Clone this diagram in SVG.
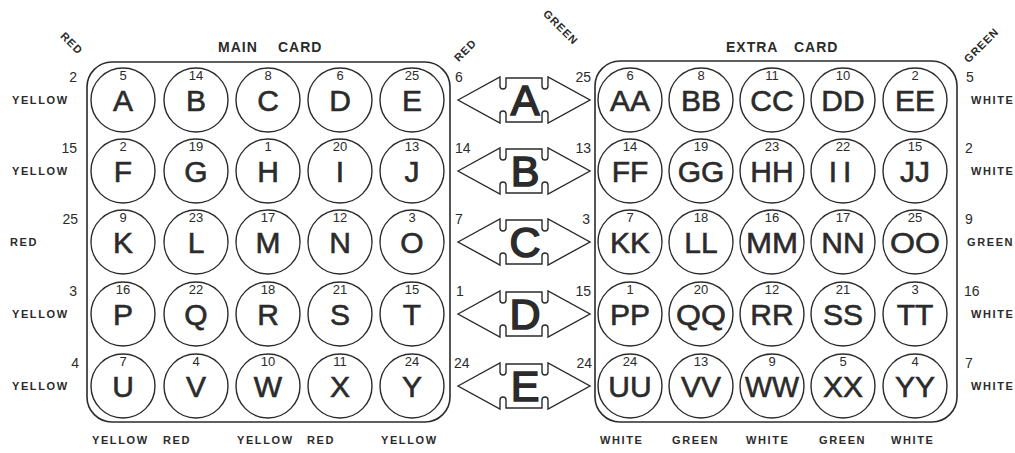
<svg xmlns="http://www.w3.org/2000/svg" xmlns:xlink="http://www.w3.org/1999/xlink" width="1015" height="453" viewBox="0 0 1015 453">
<style>
.card{fill:none;stroke:#2b2b2b;stroke-width:1.6}
.ball{fill:#fff;stroke:#2b2b2b;stroke-width:1.4}
.num{font-family:"Liberation Sans",Arial,sans-serif;font-size:13px;fill:#2b2b2b;text-anchor:middle}
.let{font-family:"Liberation Sans",Arial,sans-serif;font-size:30px;fill:#2b2b2b;stroke:#2b2b2b;stroke-width:0.6;text-anchor:middle}
.big{font-family:"Liberation Sans",Arial,sans-serif;font-size:43px;fill:#2b2b2b;stroke:#2b2b2b;stroke-width:1.6;text-anchor:middle}
.side{font-family:"Liberation Sans",Arial,sans-serif;font-size:14px;fill:#2b2b2b}
.lab{font-family:"Liberation Sans",Arial,sans-serif;font-size:11px;font-weight:bold;letter-spacing:1.6px;fill:#2b2b2b}
.title{font-family:"Liberation Sans",Arial,sans-serif;font-size:14px;font-weight:bold;letter-spacing:1px;fill:#2b2b2b}
.rot{font-family:"Liberation Sans",Arial,sans-serif;font-size:11px;font-weight:bold;letter-spacing:1px;fill:#2b2b2b;text-anchor:middle}
.arrow{fill:#fff;stroke:#2b2b2b;stroke-width:1.4;stroke-linejoin:miter}
</style>
<defs>
<path id="sel" class="arrow" d="M -66,0 L -24,-23 L -24,-14 A 3,3 0 0 0 -18,-14 L -18,-22 L 18,-22 L 18,-14 A 3,3 0 0 0 24,-14 L 24,-23 L 66,0 L 24,23 L 24,14 A 3,3 0 0 0 18,14 L 18,22 L -18,22 L -18,14 A 3,3 0 0 0 -24,14 L -24,23 Z"/>
</defs>
<rect width="1015" height="453" fill="#fff"/>

<g id="titles">
<text class="title" y="52"><tspan x="218">MAIN</tspan><tspan x="278">CARD</tspan></text>
<text class="title" y="52"><tspan x="726">EXTRA</tspan><tspan x="794">CARD</tspan></text>
<text class="rot" transform="translate(69,46) rotate(45)">RED</text>
<text class="rot" transform="translate(468,53) rotate(-45)">RED</text>
<text class="rot" transform="translate(558,30) rotate(45)">GREEN</text>
<text class="rot" transform="translate(984,48) rotate(-45)">GREEN</text>
</g>

<g id="main-card">
<rect class="card" x="87" y="62" width="363" height="360" rx="25"/>
</g>
<g id="extra-card">
<rect class="card" x="595" y="61" width="362" height="361" rx="25"/>
</g>

<g id="main-balls">
<g id="ball-A"><circle class="ball" cx="123" cy="100" r="32"/><text class="num" x="123" y="80">5</text><text class="let" x="123" y="111">A</text></g>
<g id="ball-B"><circle class="ball" cx="196" cy="100" r="32"/><text class="num" x="196" y="80">14</text><text class="let" x="196" y="111">B</text></g>
<g id="ball-C"><circle class="ball" cx="268" cy="100" r="32"/><text class="num" x="268" y="80">8</text><text class="let" x="268" y="111">C</text></g>
<g id="ball-D"><circle class="ball" cx="340" cy="100" r="32"/><text class="num" x="340" y="80">6</text><text class="let" x="340" y="111">D</text></g>
<g id="ball-E"><circle class="ball" cx="412" cy="100" r="32"/><text class="num" x="412" y="80">25</text><text class="let" x="412" y="111">E</text></g>

<g id="ball-F"><circle class="ball" cx="123" cy="171" r="32"/><text class="num" x="123" y="151">2</text><text class="let" x="123" y="182">F</text></g>
<g id="ball-G"><circle class="ball" cx="196" cy="171" r="32"/><text class="num" x="196" y="151">19</text><text class="let" x="196" y="182">G</text></g>
<g id="ball-H"><circle class="ball" cx="268" cy="171" r="32"/><text class="num" x="268" y="151">1</text><text class="let" x="268" y="182">H</text></g>
<g id="ball-I"><circle class="ball" cx="340" cy="171" r="32"/><text class="num" x="340" y="151">20</text><text class="let" x="340" y="182">I</text></g>
<g id="ball-J"><circle class="ball" cx="412" cy="171" r="32"/><text class="num" x="412" y="151">13</text><text class="let" x="412" y="182">J</text></g>

<g id="ball-K"><circle class="ball" cx="123" cy="242" r="32"/><text class="num" x="123" y="222">9</text><text class="let" x="123" y="253">K</text></g>
<g id="ball-L"><circle class="ball" cx="196" cy="242" r="32"/><text class="num" x="196" y="222">23</text><text class="let" x="196" y="253">L</text></g>
<g id="ball-M"><circle class="ball" cx="268" cy="242" r="32"/><text class="num" x="268" y="222">17</text><text class="let" x="268" y="253">M</text></g>
<g id="ball-N"><circle class="ball" cx="340" cy="242" r="32"/><text class="num" x="340" y="222">12</text><text class="let" x="340" y="253">N</text></g>
<g id="ball-O"><circle class="ball" cx="412" cy="242" r="32"/><text class="num" x="412" y="222">3</text><text class="let" x="412" y="253">O</text></g>

<g id="ball-P"><circle class="ball" cx="123" cy="314" r="32"/><text class="num" x="123" y="294">16</text><text class="let" x="123" y="325">P</text></g>
<g id="ball-Q"><circle class="ball" cx="196" cy="314" r="32"/><text class="num" x="196" y="294">22</text><text class="let" x="196" y="325">Q</text></g>
<g id="ball-R"><circle class="ball" cx="268" cy="314" r="32"/><text class="num" x="268" y="294">18</text><text class="let" x="268" y="325">R</text></g>
<g id="ball-S"><circle class="ball" cx="340" cy="314" r="32"/><text class="num" x="340" y="294">21</text><text class="let" x="340" y="325">S</text></g>
<g id="ball-T"><circle class="ball" cx="412" cy="314" r="32"/><text class="num" x="412" y="294">15</text><text class="let" x="412" y="325">T</text></g>

<g id="ball-U"><circle class="ball" cx="123" cy="386" r="32"/><text class="num" x="123" y="366">7</text><text class="let" x="123" y="397">U</text></g>
<g id="ball-V"><circle class="ball" cx="196" cy="386" r="32"/><text class="num" x="196" y="366">4</text><text class="let" x="196" y="397">V</text></g>
<g id="ball-W"><circle class="ball" cx="268" cy="386" r="32"/><text class="num" x="268" y="366">10</text><text class="let" x="268" y="397">W</text></g>
<g id="ball-X"><circle class="ball" cx="340" cy="386" r="32"/><text class="num" x="340" y="366">11</text><text class="let" x="340" y="397">X</text></g>
<g id="ball-Y"><circle class="ball" cx="412" cy="386" r="32"/><text class="num" x="412" y="366">24</text><text class="let" x="412" y="397">Y</text></g>
</g>

<g id="extra-balls">
<g id="ball-AA"><circle class="ball" cx="630" cy="100" r="32"/><text class="num" x="630" y="80">6</text><text class="let" x="630" y="111">AA</text></g>
<g id="ball-BB"><circle class="ball" cx="701" cy="100" r="32"/><text class="num" x="701" y="80">8</text><text class="let" x="701" y="111">BB</text></g>
<g id="ball-CC"><circle class="ball" cx="772" cy="100" r="32"/><text class="num" x="772" y="80">11</text><text class="let" x="772" y="111">CC</text></g>
<g id="ball-DD"><circle class="ball" cx="843" cy="100" r="32"/><text class="num" x="843" y="80">10</text><text class="let" x="843" y="111">DD</text></g>
<g id="ball-EE"><circle class="ball" cx="915" cy="100" r="32"/><text class="num" x="915" y="80">2</text><text class="let" x="915" y="111">EE</text></g>

<g id="ball-FF"><circle class="ball" cx="630" cy="171" r="32"/><text class="num" x="630" y="151">14</text><text class="let" x="630" y="182">FF</text></g>
<g id="ball-GG"><circle class="ball" cx="701" cy="171" r="32"/><text class="num" x="701" y="151">19</text><text class="let" x="701" y="182">GG</text></g>
<g id="ball-HH"><circle class="ball" cx="772" cy="171" r="32"/><text class="num" x="772" y="151">23</text><text class="let" x="772" y="182">HH</text></g>
<g id="ball-II"><circle class="ball" cx="843" cy="171" r="32"/><text class="num" x="843" y="151">22</text><text class="let" x="843" y="182" letter-spacing="6">II</text></g>
<g id="ball-JJ"><circle class="ball" cx="915" cy="171" r="32"/><text class="num" x="915" y="151">15</text><text class="let" x="915" y="182">JJ</text></g>

<g id="ball-KK"><circle class="ball" cx="630" cy="242" r="32"/><text class="num" x="630" y="222">7</text><text class="let" x="630" y="253">KK</text></g>
<g id="ball-LL"><circle class="ball" cx="701" cy="242" r="32"/><text class="num" x="701" y="222">18</text><text class="let" x="701" y="253">LL</text></g>
<g id="ball-MM"><circle class="ball" cx="772" cy="242" r="32"/><text class="num" x="772" y="222">16</text><text class="let" x="772" y="253" textLength="52" lengthAdjust="spacingAndGlyphs">MM</text></g>
<g id="ball-NN"><circle class="ball" cx="843" cy="242" r="32"/><text class="num" x="843" y="222">17</text><text class="let" x="843" y="253">NN</text></g>
<g id="ball-OO"><circle class="ball" cx="915" cy="242" r="32"/><text class="num" x="915" y="222">25</text><text class="let" x="915" y="253" textLength="50" lengthAdjust="spacingAndGlyphs">OO</text></g>

<g id="ball-PP"><circle class="ball" cx="630" cy="314" r="32"/><text class="num" x="630" y="294">1</text><text class="let" x="630" y="325">PP</text></g>
<g id="ball-QQ"><circle class="ball" cx="701" cy="314" r="32"/><text class="num" x="701" y="294">20</text><text class="let" x="701" y="325" textLength="50" lengthAdjust="spacingAndGlyphs">QQ</text></g>
<g id="ball-RR"><circle class="ball" cx="772" cy="314" r="32"/><text class="num" x="772" y="294">12</text><text class="let" x="772" y="325">RR</text></g>
<g id="ball-SS"><circle class="ball" cx="843" cy="314" r="32"/><text class="num" x="843" y="294">21</text><text class="let" x="843" y="325">SS</text></g>
<g id="ball-TT"><circle class="ball" cx="915" cy="314" r="32"/><text class="num" x="915" y="294">3</text><text class="let" x="915" y="325">TT</text></g>

<g id="ball-UU"><circle class="ball" cx="630" cy="386" r="32"/><text class="num" x="630" y="366">24</text><text class="let" x="630" y="397">UU</text></g>
<g id="ball-VV"><circle class="ball" cx="701" cy="386" r="32"/><text class="num" x="701" y="366">13</text><text class="let" x="701" y="397">VV</text></g>
<g id="ball-WW"><circle class="ball" cx="772" cy="386" r="32"/><text class="num" x="772" y="366">9</text><text class="let" x="772" y="397" textLength="54" lengthAdjust="spacingAndGlyphs">WW</text></g>
<g id="ball-XX"><circle class="ball" cx="843" cy="386" r="32"/><text class="num" x="843" y="366">5</text><text class="let" x="843" y="397">XX</text></g>
<g id="ball-YY"><circle class="ball" cx="915" cy="386" r="32"/><text class="num" x="915" y="366">4</text><text class="let" x="915" y="397">YY</text></g>
</g>

<g id="selectors">
<g id="sel-A"><use xlink:href="#sel" x="524" y="100"/><text class="big" x="525" y="115">A</text></g>
<g id="sel-B"><use xlink:href="#sel" x="524" y="171"/><text class="big" x="525" y="186">B</text></g>
<g id="sel-C"><use xlink:href="#sel" x="524" y="242"/><text class="big" x="525" y="257">C</text></g>
<g id="sel-D"><use xlink:href="#sel" x="524" y="314"/><text class="big" x="525" y="329">D</text></g>
<g id="sel-E"><use xlink:href="#sel" x="524" y="386"/><text class="big" x="525" y="401">E</text></g>
</g>

<g id="row-labels">
<text class="side" x="77" y="82" text-anchor="end">2</text>
<text class="side" x="77" y="153" text-anchor="end">15</text>
<text class="side" x="78" y="224" text-anchor="end">25</text>
<text class="side" x="77" y="296" text-anchor="end">3</text>
<text class="side" x="79" y="368" text-anchor="end">4</text>
<text class="lab" x="12" y="104">YELLOW</text>
<text class="lab" x="12" y="175">YELLOW</text>
<text class="lab" x="10" y="246">RED</text>
<text class="lab" x="12" y="318">YELLOW</text>
<text class="lab" x="12" y="390">YELLOW</text>

<text class="side" x="455" y="82">6</text>
<text class="side" x="455" y="153">14</text>
<text class="side" x="455" y="224">7</text>
<text class="side" x="456" y="296">1</text>
<text class="side" x="454" y="368">24</text>
<text class="side" x="591" y="82" text-anchor="end">25</text>
<text class="side" x="591" y="153" text-anchor="end">13</text>
<text class="side" x="590" y="224" text-anchor="end">3</text>
<text class="side" x="591" y="296" text-anchor="end">15</text>
<text class="side" x="592" y="368" text-anchor="end">24</text>

<text class="side" x="966" y="82">5</text>
<text class="side" x="965" y="153">2</text>
<text class="side" x="965" y="224">9</text>
<text class="side" x="964" y="296">16</text>
<text class="side" x="965" y="368">7</text>
<text class="lab" x="971" y="104">WHITE</text>
<text class="lab" x="971" y="175">WHITE</text>
<text class="lab" x="967" y="246">GREEN</text>
<text class="lab" x="971" y="318">WHITE</text>
<text class="lab" x="971" y="390">WHITE</text>
</g>

<g id="column-labels">
<text class="lab" x="92" y="444">YELLOW</text>
<text class="lab" x="163" y="444">RED</text>
<text class="lab" x="237" y="444">YELLOW</text>
<text class="lab" x="307" y="444">RED</text>
<text class="lab" x="381" y="444">YELLOW</text>
<text class="lab" x="600" y="444">WHITE</text>
<text class="lab" x="672" y="444">GREEN</text>
<text class="lab" x="746" y="444">WHITE</text>
<text class="lab" x="819" y="444">GREEN</text>
<text class="lab" x="891" y="444">WHITE</text>
</g>
</svg>
